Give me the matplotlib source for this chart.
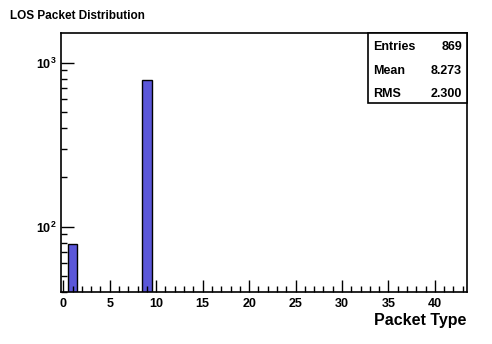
import numpy as np
import matplotlib
matplotlib.use("Agg")
import matplotlib.pyplot as plt
from matplotlib.ticker import LogLocator, MultipleLocator, FuncFormatter, NullFormatter

# histogram contents (packet type -> counts)
packet_types = [1, 9]
counts = [78, 791]
bin_width = 1.0

stats_labels = ["Entries", "Mean", "RMS"]
stats_values = ["869", "8.273", "2.300"]

plt.rcParams["font.family"] = ["Liberation Sans", "DejaVu Sans"]
plt.rcParams["font.weight"] = "bold"
plt.rcParams["mathtext.fontset"] = "custom"
plt.rcParams["mathtext.rm"] = "Liberation Sans:bold"
plt.rcParams["mathtext.bf"] = "Liberation Sans:bold"
plt.rcParams["mathtext.it"] = "Liberation Sans:bold"

W, H = 492, 344
fig = plt.figure(figsize=(W / 100, H / 100), dpi=100)
ax = fig.add_axes([60.5 / W, (H - 292) / H, (467.4 - 60.5) / W, (292 - 33) / H])

ax.bar(packet_types, counts, width=bin_width, align="center",
       color="#5b57d9", edgecolor="black", linewidth=1.0)

ax.set_yscale("log")
ax.set_ylim(40, 1520)
ax.set_xlim(-0.3, 43.5)

ax.xaxis.set_major_locator(MultipleLocator(5))
ax.xaxis.set_minor_locator(MultipleLocator(1))
ax.yaxis.set_major_locator(LogLocator(base=10))
ax.yaxis.set_minor_locator(LogLocator(base=10, subs=np.arange(2, 10)))
ax.yaxis.set_minor_formatter(NullFormatter())
ax.yaxis.set_major_formatter(FuncFormatter(
    lambda v, pos: r"$10^{%d}$" % int(round(np.log10(v)))))

ax.tick_params(axis="both", which="both", direction="in",
               top=False, right=False, width=1.0, labelsize=9)
ax.tick_params(axis="both", which="major", length=9)
ax.tick_params(axis="both", which="minor", length=4.5)
ax.tick_params(axis="x", pad=4)
ax.tick_params(axis="y", pad=3)
for lab in ax.get_xticklabels() + ax.get_yticklabels():
    lab.set_fontweight("bold")

for sp in ax.spines.values():
    sp.set_linewidth(1.2)

fig.text(10 / W, 1 - 16 / H, "LOS Packet Distribution", fontsize=8.5,
         fontweight="bold", ha="left", va="center")
fig.text(466 / W, 1 - 320 / H, "Packet Type", fontsize=11.5,
         fontweight="bold", ha="right", va="center")

# stats box
bx0, bx1, by0, by1 = 368, 467, 33, 103
box = plt.Rectangle((bx0 / W, 1 - by1 / H), (bx1 - bx0) / W, (by1 - by0) / H,
                    transform=fig.transFigure, facecolor="white",
                    edgecolor="black", linewidth=1.2, zorder=5)
fig.add_artist(box)
rows_y = [47, 71, 94]
for lab, val, yy in zip(stats_labels, stats_values, rows_y):
    fig.text(373 / W, 1 - yy / H, lab, fontsize=9, fontweight="bold",
             ha="left", va="center", zorder=6)
    fig.text(462 / W, 1 - yy / H, val, fontsize=9, fontweight="bold",
             ha="right", va="center", zorder=6)

fig.savefig("out.png", dpi=100)
